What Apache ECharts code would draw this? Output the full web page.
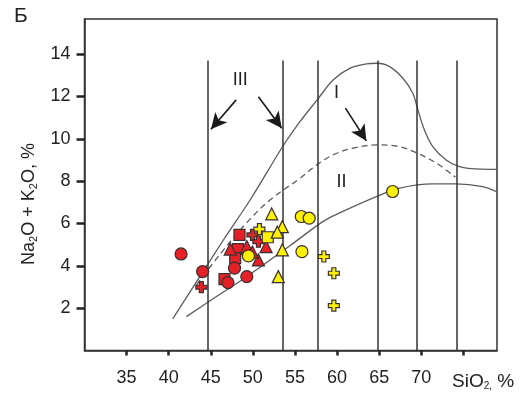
<!DOCTYPE html>
<html>
<head>
<meta charset="utf-8">
<script src="https://cdn.jsdelivr.net/npm/echarts@6/dist/echarts.min.js"></script>
<style>
html, body { margin: 0; padding: 0; background: #fff; }
#chart { width: 523px; height: 396px; }
</style>
</head>
<body>
<div id="chart"></div>
<script>
// подписи осей
var xTickValues = [35, 40, 45, 50, 55, 60, 65, 70, 75];
var xLabelValues = [35, 40, 45, 50, 55, 60, 65, 70];
var yTickValues = [2, 4, 6, 8, 10, 12, 14];

// вертикальные границы по SiO2
var siO2Bounds = [44.6, 53.6, 57.7, 64.8, 69.5, 74.2];
var boundTop = 13.7;

// кривые
var upperCurve = [[40.48, 1.49], [46.5, 5.22], [49.67, 7.11], [53.58, 9.66], [55.59, 10.81], [57.64, 11.84],
  [59.53, 12.78], [61.5, 13.33], [63.49, 13.54], [64.74, 13.57], [66.24, 13.41], [67.82, 12.86], [69.0, 12.15],
  [69.6, 11.37], [70.38, 10.42], [71.37, 9.63], [72.95, 9.0], [74.53, 8.69], [76.5, 8.58], [78.9, 8.56]];
var dashedCurve = [[43.3, 3.1], [46.0, 4.5], [49.3, 6.05], [52.0, 7.1], [55.6, 8.14], [57.6, 8.77], [59.5, 9.24],
  [61.9, 9.56], [64.7, 9.71], [67.0, 9.66], [69.4, 9.35], [71.8, 8.85], [74.05, 8.19]];
var lowerCurve = [[42.1, 1.6], [45.5, 2.5], [49.3, 3.5], [54.4, 4.95], [58.35, 6.1], [60.3, 6.5], [64.67, 7.27],
  [67.43, 7.67], [71.37, 7.87], [74.14, 7.87], [77.3, 7.74], [78.95, 7.5]];

// точки
var redCircles = [[41.47, 4.56], [44.03, 3.73], [47.82, 3.89], [49.28, 3.49], [47.04, 3.21]];
var redSquares = [[48.41, 5.46], [48.22, 4.79], [47.9, 4.36], [46.63, 3.37]];
var redCrosses = [[49.95, 5.46], [50.66, 5.14], [43.88, 2.99]];
var redTriangles = [[47.31, 4.79], [49.28, 4.91], [51.57, 4.91], [50.66, 4.28], [49.95, 4.65]];
var yellowCircles = [[49.47, 4.47], [55.75, 6.33], [56.69, 6.25], [55.83, 4.67], [66.6, 7.51]];
var yellowSquares = [[51.77, 5.35]];
var yellowTriangles = [[52.24, 6.45], [53.5, 5.85], [52.9, 5.59], [53.5, 4.75], [53.02, 3.49]];
var yellowCrosses = [[50.78, 5.73], [58.43, 4.44], [59.62, 3.65], [59.62, 2.12]];

// подписи полей и стрелки
var fieldLabels = [['III', 48.49, 12.78], ['I', 59.93, 12.15], ['II', 60.53, 7.98]];
var arrows = [[48.02, 11.84, 45.02, 10.45], [50.66, 11.99, 53.43, 10.5], [61.0, 11.45, 63.49, 9.9]];

var font = 'Liberation Sans, Arial, sans-serif';
var RED = '#e62027', YELLOW = '#fff200', EDGE = '#3a3030';
var crossPath = 'path://M3.2,0H6.8V3.2H10V6.8H6.8V10H3.2V6.8H0V3.2H3.2Z';

function pts(name, data, symbol, size, color) {
  return {
    name: name, type: 'scatter', data: data, symbol: symbol, symbolSize: size, z: 5,
    itemStyle: { color: color, borderColor: EDGE, borderWidth: 1.2, opacity: 1 }
  };
}
function curve(data, dashed) {
  return {
    type: 'line', data: data, smooth: 0.35, symbol: 'none', silent: true, z: 2,
    lineStyle: { color: '#5c5c5c', width: 1.3, type: dashed ? [6, 4] : 'solid' }
  };
}

var myChart = echarts.init(document.getElementById('chart'));
var option = {
  animation: false,
  grid: { left: 84.5, right: 26, top: 19, bottom: 45.5, show: true, borderColor: '#333', borderWidth: 1.5 },
  xAxis: {
    type: 'value', min: 30, max: 79,
    splitLine: { show: false },
    axisLine: { lineStyle: { color: '#333', width: 1.5 } },
    axisTick: { customValues: xTickValues, length: 5, lineStyle: { color: '#222', width: 2.5 } },
    axisLabel: { customValues: xLabelValues, margin: 19, color: '#222', fontSize: 18, fontFamily: font }
  },
  yAxis: {
    type: 'value', min: 0, max: 15.66,
    splitLine: { show: false },
    axisLine: { lineStyle: { color: '#333', width: 1.5 } },
    axisTick: { customValues: yTickValues, length: 8, lineStyle: { color: '#222', width: 2.5 } },
    axisLabel: { customValues: yTickValues, margin: 14, color: '#222', fontSize: 18, fontFamily: font }
  },
  graphic: [
    { type: 'text', left: 14, top: 6, style: { text: 'Б', fontSize: 21, fontFamily: font, fill: '#222' } },
    {
      type: 'text', x: 19, y: 204, rotation: Math.PI / 2,
      style: {
        text: '{a|Na}{s|2}{a|O + K}{s|2}{a|O, %}', align: 'center', verticalAlign: 'top',
        rich: {
          a: { fontSize: 18, fontFamily: font, fill: '#222' },
          s: { fontSize: 11, fontFamily: font, fill: '#222', padding: [9, 0, 0, 0] }
        }
      }
    },
    {
      type: 'text', left: 452, top: 372,
      style: {
        text: '{a|SiO}{s|2,}{a| %}',
        rich: {
          a: { fontSize: 19, fontFamily: font, fill: '#222' },
          s: { fontSize: 10, fontFamily: font, fill: '#222', padding: [10, 0, 0, 0] }
        }
      }
    }
  ],
  series: [
    {
      type: 'line', data: [], silent: true, z: 1,
      markLine: {
        silent: true, symbol: 'none', animation: false,
        label: { show: false },
        lineStyle: { color: '#333', width: 1.5, type: 'solid' },
        data: siO2Bounds.map(function (v) { return [{ coord: [v, 0] }, { coord: [v, boundTop] }]; })
      }
    },
    {
      type: 'line', data: [], silent: true, z: 3,
      markLine: {
        silent: true, symbol: ['none', 'arrow'], symbolSize: [12, 16], animation: false,
        label: { show: false },
        lineStyle: { color: '#1a1a1a', width: 1.6, type: 'solid' },
        data: arrows.map(function (a) { return [{ coord: [a[0], a[1]] }, { coord: [a[2], a[3]] }]; })
      },
      markPoint: {
        symbol: 'circle', symbolSize: 0, silent: true,
        label: { show: true, color: '#222', fontSize: 18, fontFamily: font },
        data: fieldLabels.map(function (l) { return { coord: [l[1], l[2]], value: l[0], label: { formatter: l[0] } }; })
      }
    },
    curve(upperCurve, false),
    curve(dashedCurve, true),
    curve(lowerCurve, false),
    pts('rs', redSquares, 'rect', 11, RED),
    pts('rc', redCircles, 'circle', 12, RED),
    pts('rx', redCrosses, crossPath, 11, RED),
    pts('rt', redTriangles, 'triangle', 12, RED),
    pts('yc', yellowCircles, 'circle', 12, YELLOW),
    pts('ys', yellowSquares, 'rect', 11, YELLOW),
    pts('yt', yellowTriangles, 'triangle', 12, YELLOW),
    pts('yx', yellowCrosses, crossPath, 11, YELLOW)
  ]
};
myChart.setOption(option);
window.onresize = myChart.resize;
</script>
</body>
</html>
